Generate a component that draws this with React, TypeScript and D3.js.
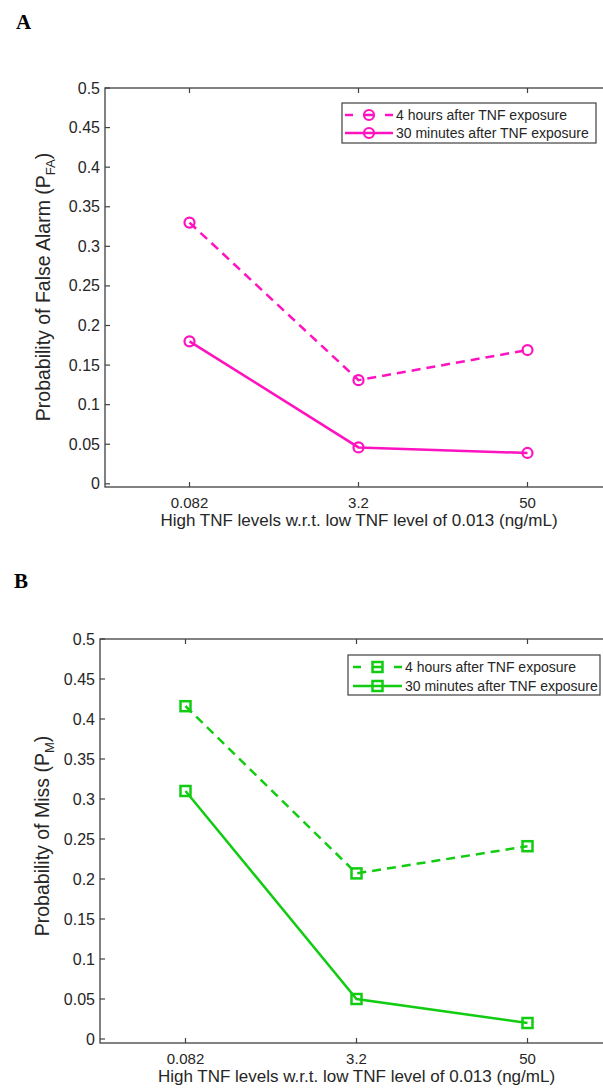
import React from 'react';
import * as d3 from 'd3';

// values
const categories = ['0.082', '3.2', '50'];
const yTickValues = [0, 0.05, 0.1, 0.15, 0.2, 0.25, 0.3, 0.35, 0.4, 0.45, 0.5];
const seriesNames = ['4 hours after TNF exposure', '30 minutes after TNF exposure'];
const falseAlarm4h = [0.33, 0.131, 0.169];
const falseAlarm30m = [0.18, 0.046, 0.039];
const miss4h = [0.416, 0.207, 0.241];
const miss30m = [0.31, 0.05, 0.02];
const xAxisTitle = 'High TNF levels w.r.t. low TNF level of 0.013 (ng/mL)';

const FONT = '"Liberation Sans", Arial, Helvetica, sans-serif';
const AXIS = '#404040';
const TEXT = '#262626';

function Marker({ shape, x, y, color }) {
  if (shape === 'circle') {
    return <circle cx={x} cy={y} r={5} fill="none" stroke={color} strokeWidth={2.2} />;
  }
  return <rect x={x - 5} y={y - 5} width={10} height={10} fill="none" stroke={color} strokeWidth={2.5} />;
}

function Panel({ tag, tagX, tagY, box, yMin, yTitle, ySub, yTitleX, yTitleY, color, shape, dashed, solid, legend }) {
  const x = d3.scalePoint().domain(categories).range([box.left, box.right]).padding(0.5);
  const y = d3.scaleLinear().domain([yMin, 0.5]).range([box.bottom, box.top]);
  const line = d3
    .line<number>()
    .x((d, i) => x(categories[i]))
    .y(d => y(d));
  const series = [
    { values: dashed, dash: '9,6' },
    { values: solid, dash: null }
  ];

  return (
    <g>
      <text x={tagX} y={tagY} fontFamily='"Liberation Serif", "Times New Roman", serif' fontWeight="bold" fontSize={21} fill="#000">
        {tag}
      </text>

      {/* axes box */}
      <rect x={box.left} y={box.top} width={box.right - box.left} height={box.bottom - box.top} fill="none" stroke={AXIS} strokeWidth={1.3} />

      {yTickValues.map(t => (
        <g key={'y' + t}>
          <line x1={box.left} x2={box.left + 5} y1={y(t)} y2={y(t)} stroke={AXIS} strokeWidth={1.2} />
          <text x={box.left - 5} y={y(t) + 5.5} textAnchor="end" fontFamily={FONT} fontSize={16} fill={TEXT}>
            {String(+t.toFixed(2))}
          </text>
        </g>
      ))}

      {categories.map(c => (
        <g key={'x' + c}>
          <line x1={x(c)} x2={x(c)} y1={box.bottom} y2={box.bottom - 5} stroke={AXIS} strokeWidth={1.2} />
          <line x1={x(c)} x2={x(c)} y1={box.top} y2={box.top + 5} stroke={AXIS} strokeWidth={1.2} />
          <text x={x(c)} y={box.bottom + 21} textAnchor="middle" fontFamily={FONT} fontSize={15} fill={TEXT}>
            {c}
          </text>
        </g>
      ))}

      <text x={(box.left + 612) / 2 + 0.5} y={box.bottom + 39} textAnchor="middle" fontFamily={FONT} fontSize={17} fill={TEXT}>
        {xAxisTitle}
      </text>

      <text transform={`translate(${yTitleX},${yTitleY}) rotate(-90)`} textAnchor="middle" fontFamily={FONT} fontSize={19.5} fill={TEXT}>
        {yTitle}
        <tspan fontSize={13} dy={5}>{ySub}</tspan>
        <tspan dy={-5}>)</tspan>
      </text>

      {series.map((s, k) => (
        <g key={'s' + k}>
          <path d={line(s.values)} fill="none" stroke={color} strokeWidth={2.5} strokeDasharray={s.dash || undefined} />
          {s.values.map((v, i) => (
            <Marker key={i} shape={shape} x={x(categories[i])} y={y(v)} color={color} />
          ))}
        </g>
      ))}

      {/* legend */}
      <rect x={legend.x} y={legend.y} width={legend.w} height={legend.h} fill="#fff" stroke={AXIS} strokeWidth={1.2} />
      {seriesNames.map((name, k) => {
        const ry = legend.rows[k];
        const x0 = legend.sample[0];
        const x1 = legend.sample[1];
        const mid = (x0 + x1) / 2;
        return (
          <g key={'l' + k}>
            {k === 0 ? (
              <>
                <line x1={x0} x2={x0 + 8} y1={ry} y2={ry} stroke={color} strokeWidth={2.5} />
                <line x1={x1 - 8} x2={x1} y1={ry} y2={ry} stroke={color} strokeWidth={2.5} />
                <line x1={mid - 5} x2={mid + 5} y1={ry} y2={ry} stroke={color} strokeWidth={2.5} />
              </>
            ) : (
              <line x1={x0} x2={x1} y1={ry} y2={ry} stroke={color} strokeWidth={2.5} />
            )}
            <Marker shape={shape} x={mid} y={ry} color={color} />
            <text x={x1 + 3} y={ry + 5} fontFamily={FONT} fontSize={14} fill={TEXT}>
              {name}
            </text>
          </g>
        );
      })}
    </g>
  );
}

export default function App() {
  return (
    <svg width={603} height={1088} style={{ position: 'absolute', left: 0, top: 0, background: '#fff' }}>
      <rect width={603} height={1088} fill="#fff" />
      <Panel
        tag="A"
        tagX={16}
        tagY={29}
        box={{ left: 105, top: 88, bottom: 487, right: 612 }}
        yMin={-0.004}
        yTitle="Probability of False Alarm (P"
        ySub="FA"
        yTitleX={50}
        yTitleY={287}
        color="#ff12bf"
        shape="circle"
        dashed={falseAlarm4h}
        solid={falseAlarm30m}
        legend={{ x: 342, y: 103, w: 254, h: 40, rows: [115, 133], sample: [345, 393] }}
      />
      <Panel
        tag="B"
        tagX={14}
        tagY={588}
        box={{ left: 100, top: 639, bottom: 1043, right: 613 }}
        yMin={-0.005}
        yTitle="Probability of Miss (P"
        ySub="M"
        yTitleX={49}
        yTitleY={836}
        color="#12cc12"
        shape="square"
        dashed={miss4h}
        solid={miss30m}
        legend={{ x: 348, y: 655, w: 252, h: 40, rows: [667, 686], sample: [353, 402] }}
      />
    </svg>
  );
}
